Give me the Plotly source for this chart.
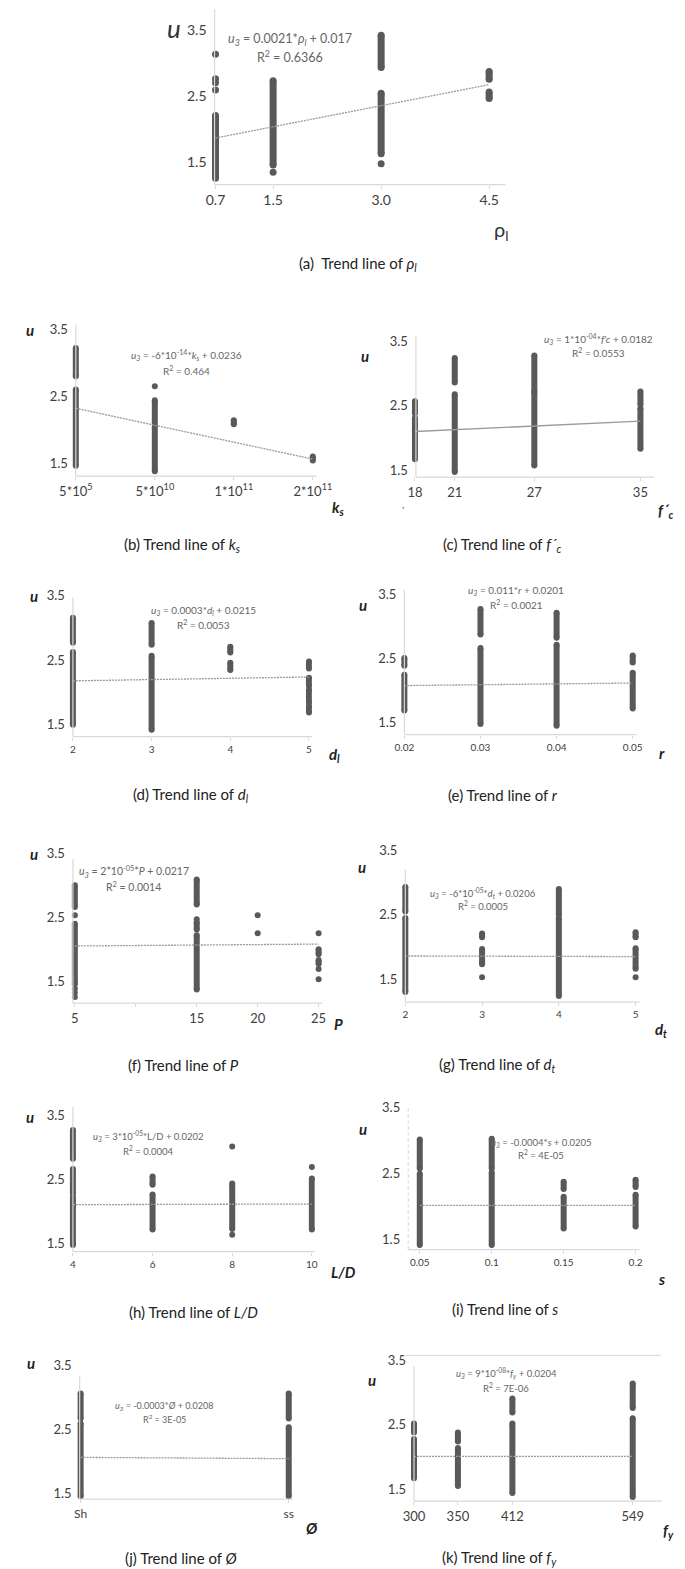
import plotly.graph_objects as go

W, H = 685, 1569
FONT = "Lato"
DOT = "#595959"
AXC = "#d9d9d9"

# ---------------- data ----------------
# each panel: dense columns of points (x, u from, u to), single points, trend line u at first/last x

# (a) rho_l
a_ticks = [0.7, 1.5, 3.0, 4.5]
a_seg_x = [0.7, 1.5, 3.0, 3.0, 4.5, 4.5]
a_seg_lo = [1.25, 1.45, 2.93, 1.62, 2.75, 2.46]
a_seg_hi = [2.20, 2.73, 3.42, 2.54, 2.87, 2.56]
a_pt_x = [0.7, 0.7, 0.7, 0.7, 1.5, 3.0]
a_pt_u = [3.13, 2.76, 2.70, 2.59, 1.34, 1.47]
a_trend = [1.86, 2.67]

# (b) k_s (categories)
b_labels = ["5*10<sup>5</sup>", "5*10<sup>10</sup>", "1*10<sup>11</sup>", "2*10<sup>11</sup>"]
b_seg_x = [0, 0, 1, 2, 3]
b_seg_lo = [2.80, 1.46, 1.38, 2.08, 1.54]
b_seg_hi = [3.22, 2.60, 2.44, 2.14, 1.60]
b_pt_x = [1, 3]
b_pt_u = [2.65, 1.30]
b_trend = [2.32, 1.56]

# (c) f'c
c_ticks = [18, 21, 27, 35]
c_seg_x = [18, 18, 21, 21, 27, 27, 35, 35]
c_seg_lo = [2.38, 1.67, 2.86, 1.47, 2.72, 1.57, 2.52, 1.83]
c_seg_hi = [2.57, 2.31, 3.24, 2.68, 3.28, 2.70, 2.72, 2.46]
c_pt_x = []
c_pt_u = []
c_trend = [2.10, 2.26]

# (d) d_l
d_ticks = [2, 3, 4, 5]
d_seg_x = [2, 2, 3, 3, 4, 4, 5, 5, 5, 5]
d_seg_lo = [2.77, 1.50, 2.74, 1.42, 2.62, 2.35, 2.37, 2.10, 1.84, 1.69]
d_seg_hi = [3.16, 2.63, 3.08, 2.57, 2.71, 2.46, 2.48, 2.23, 2.04, 1.79]
d_pt_x = []
d_pt_u = []
d_trend = [2.18, 2.24]

# (e) r
e_ticks = [0.02, 0.03, 0.04, 0.05]
e_seg_x = [0.02, 0.02, 0.03, 0.03, 0.04, 0.04, 0.05, 0.05]
e_seg_lo = [2.39, 1.69, 2.88, 1.48, 2.83, 1.45, 2.44, 1.72]
e_seg_hi = [2.51, 2.25, 3.28, 2.67, 3.22, 2.72, 2.55, 2.28]
e_pt_x = []
e_pt_u = []
e_trend = [2.08, 2.12]

# (f) P
f_ticks = [5, 10, 15, 20, 25]
f_ticktext = ["5", "", "15", "20", "25"]
f_seg_x = [5, 5, 15, 15, 15, 25, 25]
f_seg_lo = [2.66, 1.45, 2.70, 2.31, 1.37, 1.92, 1.77]
f_seg_hi = [3.00, 2.40, 3.09, 2.42, 2.22, 2.00, 1.83]
f_pt_x = [5, 5, 5, 5, 15, 20, 20, 25, 25, 25]
f_pt_u = [2.53, 1.38, 1.32, 1.25, 2.47, 2.53, 2.25, 2.25, 1.69, 1.53]
f_trend = [2.05, 2.08]

# (g) d_t
g_ticks = [2, 3, 4, 5]
g_seg_x = [2, 2, 3, 3, 4, 4, 5, 5]
g_seg_lo = [2.55, 1.30, 2.15, 1.73, 2.50, 1.24, 2.15, 1.66]
g_seg_hi = [2.93, 2.45, 2.21, 1.97, 2.90, 2.45, 2.23, 1.98]
g_pt_x = [3, 5]
g_pt_u = [1.53, 1.53]
g_trend = [1.86, 1.85]

# (h) L/D
h_ticks = [4, 6, 8, 10]
h_seg_x = [4, 4, 4, 6, 6, 8, 10]
h_seg_lo = [2.83, 2.28, 1.48, 2.42, 1.72, 1.73, 1.72]
h_seg_hi = [3.28, 2.67, 2.23, 2.55, 2.27, 2.44, 2.52]
h_pt_x = [8, 8, 10]
h_pt_u = [3.02, 1.64, 2.70]
h_trend = [2.11, 2.12]

# (i) s
i_ticks = [0.05, 0.1, 0.15, 0.2]
i_seg_x = [0.05, 0.05, 0.1, 0.1, 0.15, 0.15, 0.2, 0.2]
i_seg_lo = [2.58, 1.42, 2.58, 1.42, 2.27, 1.67, 2.30, 1.70]
i_seg_hi = [3.02, 2.50, 3.03, 2.52, 2.38, 2.15, 2.41, 2.18]
i_pt_x = []
i_pt_u = []
i_trend = [2.02, 2.02]

# (j) Ø (categories)
j_labels = ["Sh", "ss"]
j_seg_x = [0, 0, 1, 1]
j_seg_lo = [2.67, 1.45, 2.67, 1.45]
j_seg_hi = [3.06, 2.59, 3.06, 2.53]
j_pt_x = []
j_pt_u = []
j_trend = [2.06, 2.04]

# (k) f_y
k_ticks = [300, 350, 412, 549]
k_seg_x = [300, 300, 350, 350, 412, 412, 549, 549]
k_seg_lo = [2.38, 1.67, 2.24, 1.55, 2.69, 1.44, 2.76, 1.38]
k_seg_hi = [2.52, 2.28, 2.38, 2.14, 2.91, 2.52, 3.14, 2.60]
k_pt_x = []
k_pt_u = []
k_trend = [2.01, 2.01]

u_ticks = [1.5, 2.5, 3.5]

# ---------------- panel geometry (pixels in the 685x1569 page) ----------------
panels = [
    dict(seg=(a_seg_x, a_seg_lo, a_seg_hi), pts=(a_pt_x, a_pt_u), trend=a_trend, tv=a_ticks,
         tt=["0.7", "1.5", "3.0", "4.5"], xmap=(0.7, 205, 4.5, 489), ymap=(153, 21),
         yx=204, padl=6, right=506, top=0, dtop=0, bottom=176, tfs=14, xfs=14, ms=7, dash="dot"),
    dict(seg=(b_seg_x, b_seg_lo, b_seg_hi), pts=(b_pt_x, b_pt_u), trend=b_trend, tv=[0, 1, 2, 3],
         tt=b_labels, xmap=(0, 60, 3, 306), ymap=(455, 321),
         yx=60, padl=7, right=310, top=316, dtop=312, bottom=468, tfs=13, xfs=13, ms=6, dash="dot"),
    dict(seg=(c_seg_x, c_seg_lo, c_seg_hi), pts=(c_pt_x, c_pt_u), trend=c_trend, tv=c_ticks,
         tt=[str(v) for v in c_ticks], xmap=(18, 412, 35, 646), ymap=(462, 333),
         yx=413, padl=8, right=660, top=328, dtop=325, bottom=469, tfs=13, xfs=13, ms=6, dash="solid"),
    dict(seg=(d_seg_x, d_seg_lo, d_seg_hi), pts=(d_pt_x, d_pt_u), trend=d_trend, tv=d_ticks,
         tt=[str(v) for v in d_ticks], xmap=(2, 57, 5, 302), ymap=(717, 588),
         yx=57, padl=7, right=305, top=590, dtop=580, bottom=729, tfs=13, xfs=10, ms=6, dash="dot"),
    dict(seg=(e_seg_x, e_seg_lo, e_seg_hi), pts=(e_pt_x, e_pt_u), trend=e_trend, tv=e_ticks,
         tt=["0.02", "0.03", "0.04", "0.05"], xmap=(0.02, 401, 0.05, 638), ymap=(715, 587),
         yx=401, padl=7, right=642, top=582, dtop=579, bottom=727, tfs=13, xfs=10, ms=6, dash="dot"),
    dict(seg=(f_seg_x, f_seg_lo, f_seg_hi), pts=(f_pt_x, f_pt_u), trend=f_trend, tv=f_ticks,
         tt=f_ticktext, xmap=(5, 59, 25, 312), ymap=(974, 846),
         yx=57, padl=7, right=316, top=852, dtop=838, bottom=996, tfs=13, xfs=13, ms=6, dash="dot"),
    dict(seg=(g_seg_x, g_seg_lo, g_seg_hi), pts=(g_pt_x, g_pt_u), trend=g_trend, tv=g_ticks,
         tt=[str(v) for v in g_ticks], xmap=(2, 402, 5, 641), ymap=(972, 843),
         yx=402, padl=7, right=645, top=862, dtop=835, bottom=995, tfs=13, xfs=10, ms=6, dash="dot"),
    dict(seg=(h_seg_x, h_seg_lo, h_seg_hi), pts=(h_pt_x, h_pt_u), trend=h_trend, tv=h_ticks,
         tt=[str(v) for v in h_ticks], xmap=(4, 57, 10, 305), ymap=(1237, 1109),
         yx=57, padl=7, right=308, top=1100, dtop=1100, bottom=1245, tfs=13, xfs=10, ms=6, dash="dot"),
    dict(seg=(i_seg_x, i_seg_lo, i_seg_hi), pts=(i_pt_x, i_pt_u), trend=i_trend, tv=i_ticks,
         tt=["0.05", "0.1", "0.15", "0.2"], xmap=(0.05, 417, 0.2, 641), ymap=(1233, 1101),
         yx=405, padl=0, right=645, top=1100, dtop=1094, bottom=1243, tfs=13, xfs=10, ms=6, dash="dot"),
    dict(seg=(j_seg_x, j_seg_lo, j_seg_hi), pts=(j_pt_x, j_pt_u), trend=j_trend, tv=[0, 1],
         tt=j_labels, xmap=(0, 65, 1, 281), ymap=(1487, 1359),
         yx=64, padl=7, right=285, top=1370, dtop=1352, bottom=1493, tfs=13, xfs=12, ms=6, dash="dot"),
    dict(seg=(k_seg_x, k_seg_lo, k_seg_hi), pts=(k_pt_x, k_pt_u), trend=k_trend, tv=k_ticks,
         tt=[str(v) for v in k_ticks], xmap=(300, 411, 549, 638), ymap=(1483, 1354),
         yx=411, padl=7, right=668, top=1360, dtop=1347, bottom=1495, tfs=13, xfs=13, ms=6, dash="dot"),
]

fig = go.Figure()
shapes = []
layout = {}

for n, p in enumerate(panels, start=1):
    xv0, xp0, xv1, xp1 = p["xmap"]
    ppx = (xp1 - xp0) / (xv1 - xv0)
    py15, py35 = p["ymap"]
    ppy = (py15 - py35) / 2.0

    def x_at(px):
        return xv0 + (px - xp0) / ppx

    def u_at(py):
        return 1.5 + (py15 - py) / ppy

    left = p["yx"] - p["padl"]
    xa, ya = "x%d" % n, "y%d" % n
    layout["xaxis%d" % n] = dict(
        domain=[left / W, p["right"] / W], range=[x_at(left), x_at(p["right"])],
        anchor=ya, showline=False, showgrid=False, zeroline=False,
        tickmode="array", tickvals=p["tv"], ticktext=p["tt"],
        ticks="outside", ticklen=3, tickcolor=AXC,
        tickfont=dict(family=FONT, size=p["xfs"], color="#404040"),
    )
    layout["yaxis%d" % n] = dict(
        domain=[1 - p["bottom"] / H, 1 - p["dtop"] / H],
        range=[u_at(p["bottom"]), u_at(p["dtop"])],
        anchor="free", position=p["yx"] / W,
        showline=False, showgrid=False, zeroline=False,
        tickmode="array", tickvals=u_ticks, ticktext=["1.5", "2.5", "3.5"],
        ticks="", ticklabelstandoff=8,
        tickfont=dict(family=FONT, size=p["tfs"], color="#404040"),
    )

    # axis lines
    shapes.append(dict(type="line", xref="paper", yref="paper",
                       x0=p["yx"] / W, x1=p["yx"] / W,
                       y0=1 - p["bottom"] / H, y1=1 - p["top"] / H,
                       line=dict(color=AXC, width=1.2, dash="dot" if n == 9 else "solid")))
    shapes.append(dict(type="line", xref="paper", yref="paper",
                       x0=p["yx"] / W, x1=p["right"] / W,
                       y0=1 - p["bottom"] / H, y1=1 - p["bottom"] / H,
                       line=dict(color=AXC, width=1.2)))

    # dense columns
    sx, slo, shi = p["seg"]
    xs, ys = [], []
    for x, lo, hi in zip(sx, slo, shi):
        xs += [x, x, None]
        ys += [lo, hi, None]
    fig.add_trace(go.Scatter(x=xs, y=ys, xaxis=xa, yaxis=ya, mode="lines+markers",
                             line=dict(color=DOT, width=p["ms"]),
                             marker=dict(color=DOT, size=p["ms"]),
                             cliponaxis=False, showlegend=False, hoverinfo="skip"))
    # single points
    px_, pu_ = p["pts"]
    if px_:
        fig.add_trace(go.Scatter(x=px_, y=pu_, xaxis=xa, yaxis=ya, mode="markers",
                                 marker=dict(color=DOT, size=p["ms"]),
                                 cliponaxis=False, showlegend=False))
    # trend line
    fig.add_trace(go.Scatter(x=[p["tv"][0], p["tv"][-1]], y=p["trend"], xaxis=xa, yaxis=ya,
                             mode="lines",
                             line=dict(color="#9a9a9a", width=1.3,
                                       dash="2px,1px" if p["dash"] == "dot" else "solid"),
                             showlegend=False, hoverinfo="skip"))

# top border line of panel (k)
shapes.append(dict(type="line", xref="paper", yref="paper", x0=400 / W, x1=667 / W,
                   y0=1 - 1349 / H, y1=1 - 1349 / H, line=dict(color=AXC, width=1)))

annotations = []


def ann(text, x, y, size, color="#222222", xanchor="center"):
    annotations.append(dict(text=text, x=x / W, y=1 - y / H, xref="paper", yref="paper",
                            xanchor=xanchor, yanchor="middle", showarrow=False,
                            font=dict(family=FONT, size=size, color=color)))


EQ = "#666666"
# (a)
ann("<i>u</i>", 162, 19, 26, "#333333")
ann("ρ<sub>l</sub>", 502, 222, 20, "#333333")
ann("<i>u<sub>3</sub></i> = 0.0021*<i>ρ<sub>l</sub></i> + 0.017", 282, 31, 12.5, EQ)
ann("R<sup>2</sup> = 0.6366", 282, 48, 12.5, EQ)
ann("(a)  Trend line of <i>ρ<sub>l</sub></i>", 353, 255, 15)
# (b)
ann("<b><i>u</i></b>", 12, 322, 15)
ann("<b><i>k<sub>s</sub></i></b>", 333, 500, 15)
ann("<i>u<sub>3</sub></i> = -6*10<sup>-14</sup>*<i>k<sub>s</sub></i> + 0.0236", 175, 347, 10, EQ)
ann("R<sup>2</sup> = 0.464", 175, 362, 10, EQ)
ann("(b) Trend line of <i>k<sub>s</sub></i>", 170, 537, 15)
# (c)
ann("<b><i>u</i></b>", 360, 348, 15)
ann("<b><i>f´<sub>c</sub></i></b>", 673, 503, 15)
ann(",", 400, 496, 10, EQ)
ann("<i>u<sub>3</sub></i> = 1*10<sup>-04</sup>*<i>f'c</i> + 0.0182", 603, 331, 10, EQ)
ann("R<sup>2</sup> = 0.0553", 603, 344, 10, EQ)
ann("(c) Trend line of <i>f´<sub>c</sub></i>", 503, 537, 15)
# (d)
ann("<b><i>u</i></b>", 17, 588, 15)
ann("<b><i>d<sub>l</sub></i></b>", 328, 747, 15)
ann("<i>u<sub>3</sub></i> = 0.0003*<i>d<sub>l</sub></i> + 0.0215", 193, 603, 10, EQ)
ann("R<sup>2</sup> = 0.0053", 193, 617, 10, EQ)
ann("(d) Trend line of <i>d<sub>l</sub></i>", 180, 788, 15)
# (e)
ann("<b><i>u</i></b>", 358, 597, 15)
ann("<b><i>r</i></b>", 668, 745, 15)
ann("<i>u<sub>3</sub></i> = 0.011*<i>r</i> + 0.0201", 517, 583, 10, EQ)
ann("R<sup>2</sup> = 0.0021", 517, 597, 10, EQ)
ann("(e) Trend line of <i>r</i>", 503, 788, 15)
# (f)
ann("<b><i>u</i></b>", 17, 847, 15)
ann("<b><i>P</i></b>", 333, 1017, 15)
ann("<i>u<sub>3</sub></i> = 2*10<sup>-05</sup>*<i>P</i> + 0.0217", 120, 865, 10.5, EQ)
ann("R<sup>2</sup> = 0.0014", 120, 879, 10.5, EQ)
ann("(f) Trend line of <i>P</i>", 172, 1058, 15)
# (g)
ann("<b><i>u</i></b>", 357, 860, 15)
ann("<b><i>d<sub>t</sub></i></b>", 667, 1023, 15)
ann("<i>u<sub>3</sub></i> = -6*10<sup>-05</sup>*<i>d<sub>t</sub></i> + 0.0206", 483, 886, 9.5, EQ)
ann("R<sup>2</sup> = 0.0005", 483, 898, 9.5, EQ)
ann("(g) Trend line of <i>d<sub>t</sub></i>", 497, 1058, 15)
# (h)
ann("<b><i>u</i></b>", 12, 1110, 15)
ann("<b><i>L/D</i></b>", 338, 1265, 15)
ann("<i>u<sub>3</sub></i> = 3*10<sup>-05</sup>*L/D + 0.0202", 135, 1129, 9.5, EQ)
ann("R<sup>2</sup> = 0.0004", 135, 1144, 9.5, EQ)
ann("(h) Trend line of <i>L/D</i>", 182, 1305, 15)
# (i)
ann("<b><i>u</i></b>", 358, 1122, 15)
ann("<b><i>s</i></b>", 668, 1272, 15)
ann("<i>u<sub>3</sub></i> = -0.0004*<i>s</i> + 0.0205", 543, 1136, 9.5, EQ)
ann("R<sup>2</sup> = 4E-05", 543, 1148, 9.5, EQ)
ann("(i) Trend line of <i>s</i>", 505, 1302, 15)
# (j)
ann("<b><i>u</i></b>", 14, 1357, 15)
ann("<b><i>Ø</i></b>", 305, 1522, 15)
ann("<i>u<sub>3</sub></i> = -0.0003*<i>Ø</i> + 0.0208", 152, 1400, 9, EQ)
ann("R<sup>2</sup> = 3E-05", 152, 1413, 9, EQ)
ann("(j) Trend line of <i>Ø</i>", 170, 1552, 15)
# (k)
ann("<b><i>u</i></b>", 367, 1374, 15)
ann("<b><i>f<sub>y</sub></i></b>", 675, 1525, 15)
ann("<i>u<sub>3</sub></i> = 9*10<sup>-08</sup>*<i>f<sub>y</sub></i> + 0.0204", 507, 1367, 9.5, EQ)
ann("R<sup>2</sup> = 7E-06", 507, 1381, 9.5, EQ)
ann("(k) Trend line of <i>f<sub>y</sub></i>", 500, 1552, 15)

fig.update_layout(
    width=W, height=H, margin=dict(l=0, r=0, t=0, b=0),
    paper_bgcolor="white", plot_bgcolor="white",
    font=dict(family=FONT, color="#222222"),
    shapes=shapes, annotations=annotations, showlegend=False,
    **layout,
)

fig.write_html("out.html")
